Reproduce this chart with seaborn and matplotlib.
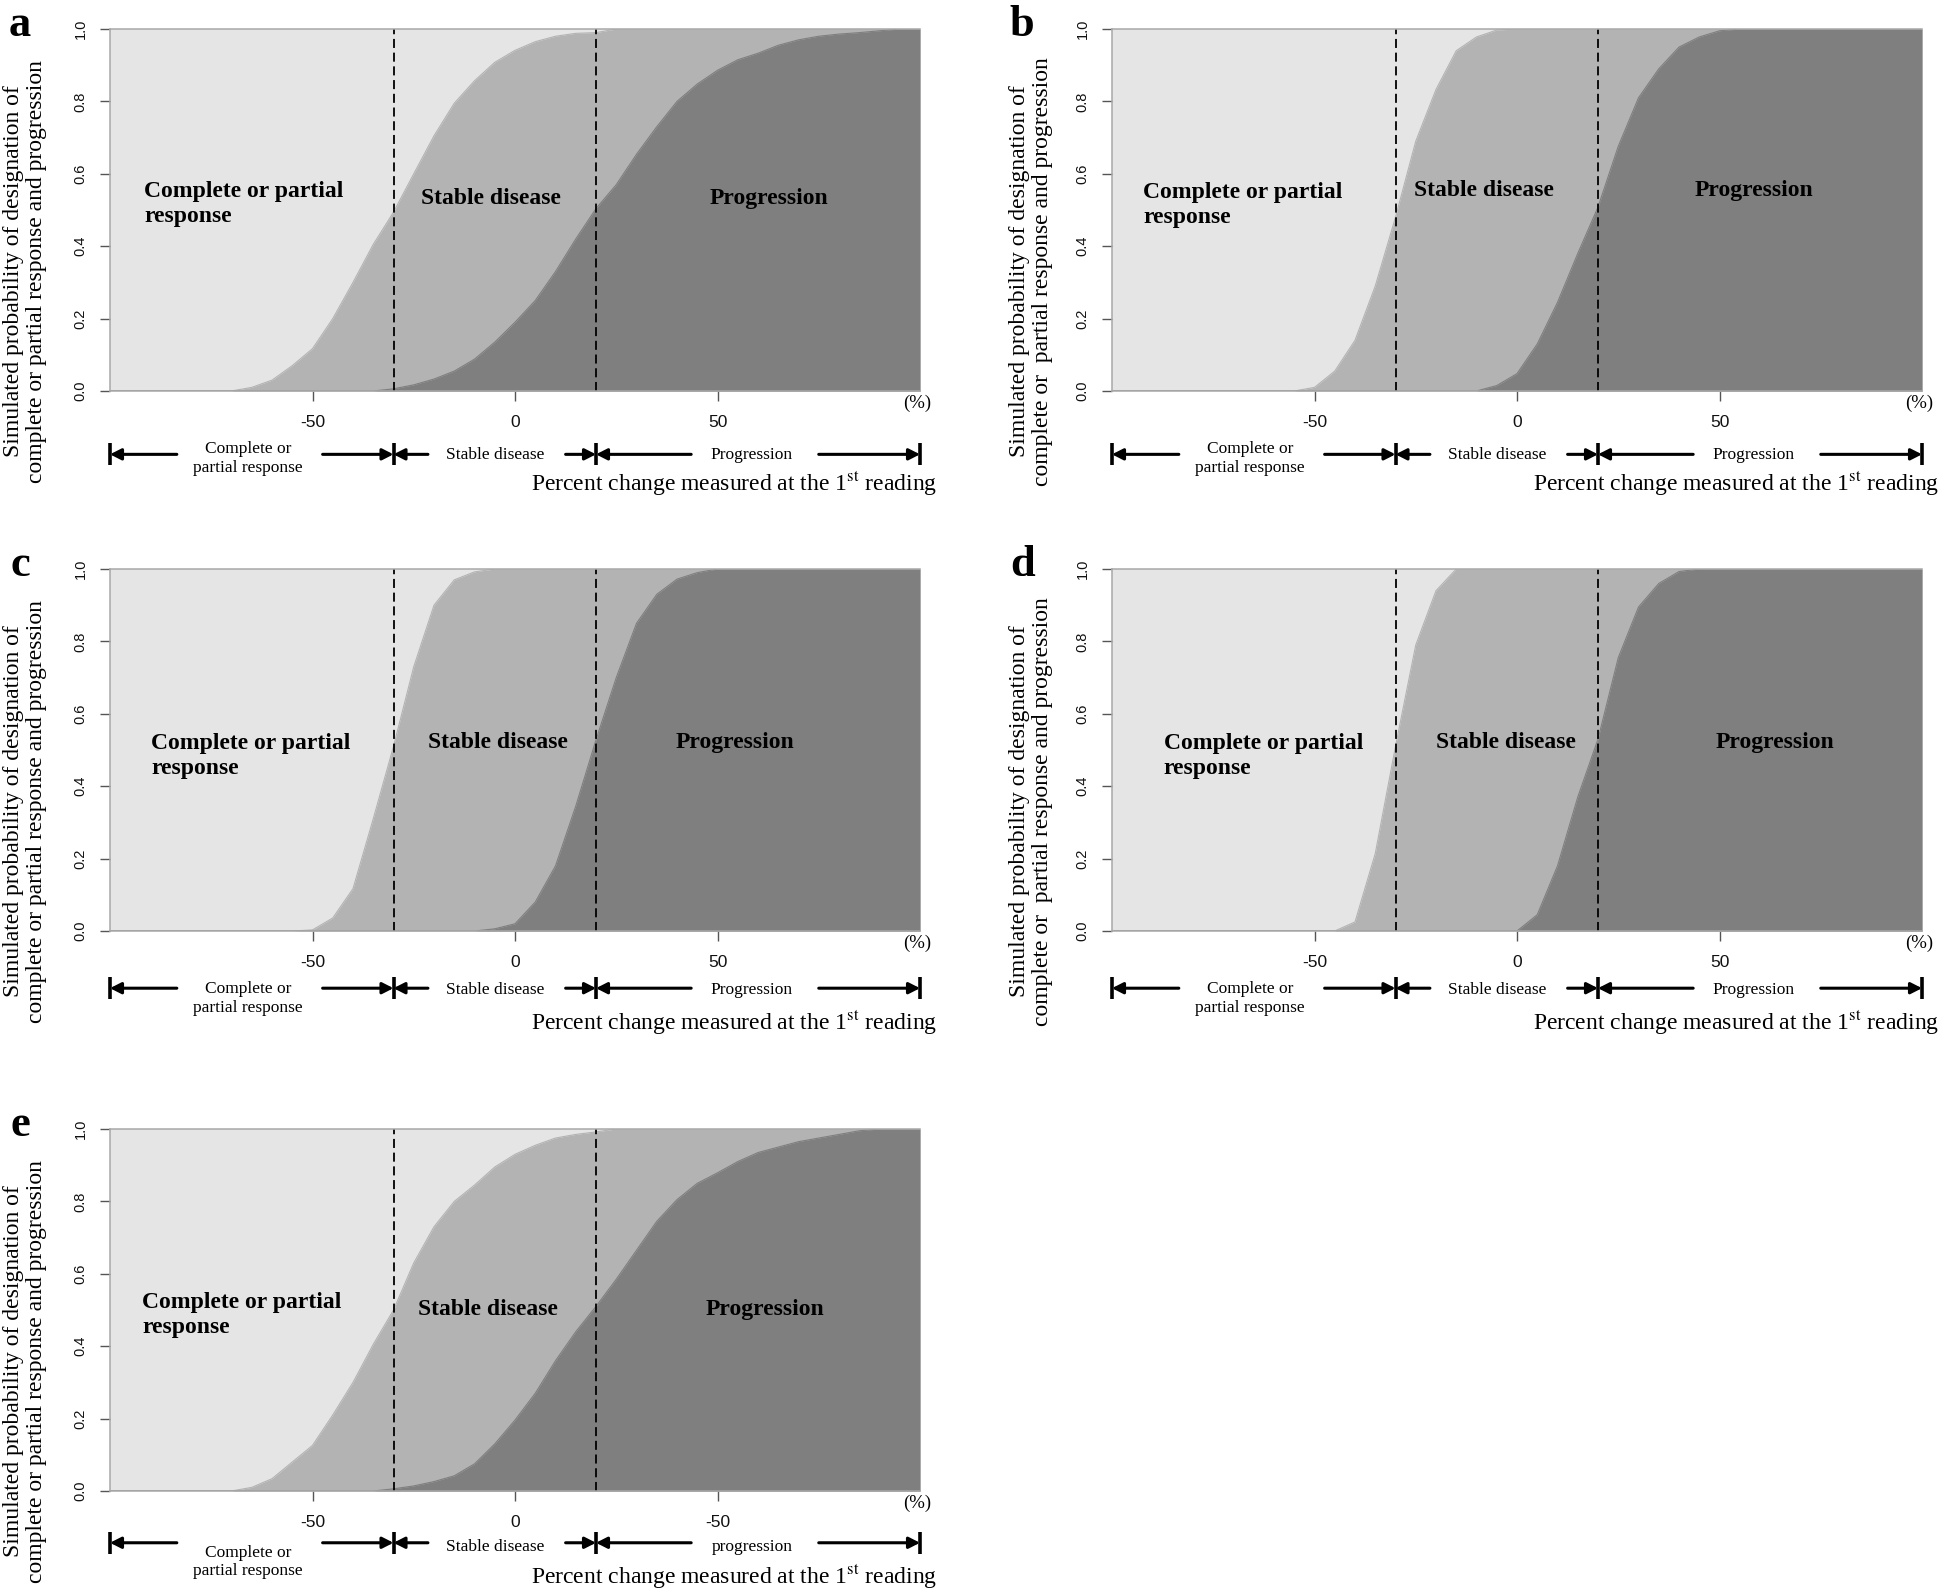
import matplotlib.pyplot as plt
import matplotlib.transforms as mtransforms
import seaborn as sns

sns.set_theme(style="ticks")
plt.rcParams["font.family"] = ["Liberation Serif", "DejaVu Serif"]
plt.rcParams["mathtext.fontset"] = "stix"
plt.rcParams["text.color"] = "black"
plt.rcParams["xtick.labelcolor"] = "#111111"
plt.rcParams["ytick.labelcolor"] = "#111111"

# percent change measured at the 1st reading
pct = [-100, -95, -90, -85, -80, -75, -70, -65, -60, -55, -50, -45, -40, -35,
       -30, -25, -20, -15, -10, -5, 0, 5, 10, 15, 20, 25, 30, 35, 40, 45, 50,
       55, 60, 65, 70, 75, 80, 85, 90, 95, 100]

# top of the mid band = P(stable or progression), top of dark band = P(progression)
a_not_resp = [0.0] * 7 + [0.01, 0.03, 0.07, 0.117, 0.20, 0.30, 0.405, 0.494, 0.60, 0.705,
                          0.795, 0.857, 0.908, 0.941, 0.965, 0.98, 0.988, 0.99, 1.0] + [1.0] * 15
a_prog = [0.0] * 14 + [0.006, 0.017, 0.033, 0.055, 0.088, 0.135, 0.19, 0.25, 0.33, 0.42,
                       0.504, 0.57, 0.654, 0.73, 0.80, 0.848, 0.886, 0.915, 0.933, 0.955,
                       0.97, 0.98, 0.986, 0.99, 0.995, 1.0, 1.0]
b_not_resp = [0.0] * 10 + [0.01, 0.055, 0.14, 0.29, 0.48, 0.69, 0.833, 0.94, 0.978, 0.997] + [1.0] * 21
b_prog = [0.0] * 19 + [0.015, 0.048, 0.13, 0.245, 0.38, 0.508, 0.676, 0.81, 0.89, 0.95,
                       0.978, 0.995] + [1.0] * 10
c_not_resp = [0.0] * 10 + [0.003, 0.036, 0.117, 0.31, 0.51, 0.73, 0.90, 0.97, 0.992, 1.0] + [1.0] * 21
c_prog = [0.0] * 19 + [0.006, 0.02, 0.08, 0.18, 0.345, 0.528, 0.70, 0.85, 0.93, 0.972,
                       0.99, 1.0] + [1.0] * 10
d_not_resp = [0.0] * 12 + [0.025, 0.214, 0.51, 0.79, 0.94, 1.0] + [1.0] * 23
d_prog = [0.0] * 21 + [0.045, 0.18, 0.37, 0.53, 0.755, 0.895, 0.96, 0.993] + [1.0] * 12
e_not_resp = [0.0] * 7 + [0.01, 0.034, 0.08, 0.126, 0.21, 0.30, 0.405, 0.50, 0.63, 0.73,
                          0.80, 0.845, 0.895, 0.93, 0.955, 0.975, 0.985, 0.992, 1.0] + [1.0] * 15
e_prog = [0.0] * 14 + [0.006, 0.014, 0.026, 0.042, 0.075, 0.13, 0.196, 0.27, 0.36, 0.44,
                       0.51, 0.585, 0.665, 0.745, 0.805, 0.85, 0.879, 0.91, 0.935, 0.95,
                       0.965, 0.975, 0.985, 0.995, 1.0, 1.0, 1.0]

cutoffs = [-30, 20]
xticks = [-50, 0, 50]
xticklabels = ["-50", "0", "50"]
xticklabels_e = ["-50", "0", "-50"]  # as printed in the source
yticks = [0.0, 0.2, 0.4, 0.6, 0.8, 1.0]
yticklabels = ["0.0", "0.2", "0.4", "0.6", "0.8", "1.0"]
zone_labels = ["Complete or partial\nresponse", "Stable disease", "Progression"]
row_labels = ["Complete or\npartial response", "Stable disease", "Progression"]
row_labels_e = ["Complete or\npartial response", "Stable disease", "progression"]
ylab_1 = "Simulated probability of designation of\ncomplete or partial response and progression"
ylab_2 = "Simulated probability of designation of\ncomplete or  partial response and progression"

LIGHT, MID, DARK = "#e5e5e5", "#b3b3b3", "#7f7f7f"
W, H = 1946, 1592


def axes_rect(left, top):
    return [left / W, 1 - (top + 362) / H, 810 / W, 362 / H]


def draw_panel(ax, letter, not_resp, prog, ylab, xtl, rows, zones, row_y, row_dy,
               ylab_x, xlab_y):
    ax.set_facecolor(LIGHT)
    ax.fill_between(pct, 0, not_resp, color=MID, lw=0, zorder=1)
    ax.fill_between(pct, 0, prog, color=DARK, lw=0, zorder=2)
    sns.lineplot(x=pct, y=not_resp, ax=ax, color=MID, lw=0.8, zorder=1.5)
    sns.lineplot(x=pct, y=prog, ax=ax, color=DARK, lw=0.8, zorder=2.5)
    for c in cutoffs:
        ax.axvline(c, color="black", lw=1.3, ls=(0, (5, 2.6)), zorder=3)
    ax.set_xlim(-100, 100)
    ax.set_ylim(0, 1)
    ax.set_xlabel("")
    ax.set_ylabel("")

    for side in ["left", "top", "bottom"]:
        ax.spines[side].set_color("#a8a8a8")
        ax.spines[side].set_linewidth(1.1)
        ax.spines[side].set_zorder(4)
    ax.spines["right"].set_visible(False)

    ax.set_xticks(xticks)
    ax.set_xticklabels(xtl, family=["Liberation Sans Narrow", "Liberation Sans"], fontsize=12.5)
    ax.set_yticks(yticks)
    ax.set_yticklabels(yticklabels, rotation=90, va="center",
                       family=["Liberation Sans", "DejaVu Sans"], fontsize=10.5)
    ax.tick_params(axis="both", direction="out", length=7, width=1, color="#555555")
    ax.tick_params(axis="x", pad=10)
    ax.tick_params(axis="y", pad=9)

    # zone names inside the plot
    (x0, y0), (x1, y1), (x2, y2) = zones
    ax.text(x0, y0, zone_labels[0], ha="left", va="center", fontsize=17,
            fontweight="bold", linespacing=1.25, zorder=5)
    ax.text(x1, y1, zone_labels[1], ha="center", va="center", fontsize=17,
            fontweight="bold", zorder=5)
    ax.text(x2, y2, zone_labels[2], ha="center", va="center", fontsize=17,
            fontweight="bold", zorder=5)

    # response category row under the axis
    trans = mtransforms.blended_transform_factory(ax.transData, ax.transAxes)
    segs = [(-83.5, -100), (-47.5, -30), (-21.5, -30), (12.5, 20), (43.5, 20), (75, 100)]
    for tail, head in segs:
        ax.annotate("", xy=(head, row_y), xytext=(tail, row_y), xycoords=trans,
                    textcoords=trans, annotation_clip=False,
                    arrowprops=dict(arrowstyle="-|>,head_length=0.55,head_width=0.28",
                                    color="black", lw=2.2, shrinkA=0, shrinkB=0))
    for b in [-100, -30, 20, 100]:
        ax.plot([b, b], [row_y - 0.03, row_y + 0.03], transform=trans, color="black",
                lw=2.6, clip_on=False, solid_capstyle="butt")
    ax.text(-66, row_y - row_dy, rows[0], transform=trans, ha="center", va="center",
            fontsize=12.5, linespacing=1.2)
    ax.text(-5, row_y - row_dy * 0.2, rows[1], transform=trans, ha="center", va="center",
            fontsize=12.5)
    ax.text(58.5, row_y - row_dy * 0.2, rows[2], transform=trans, ha="center", va="center",
            fontsize=12.5)

    ax.text(1.014, -0.033, "(%)", transform=ax.transAxes, ha="right", va="center", fontsize=13.5)
    ax.text(1.021, xlab_y, r"Percent change measured at the 1$^{\mathrm{st}}$ reading",
            transform=ax.transAxes, ha="right", va="center", fontsize=17)
    ax.text(ylab_x, 0.33, ylab, transform=ax.transAxes, rotation=90, ha="center",
            va="center", fontsize=17, linespacing=1.1)
    ax.text(-0.111, 0.98, letter, transform=ax.transAxes, ha="center", va="baseline",
            fontsize=32, fontweight="bold")


fig = plt.figure(figsize=(19.46, 15.92), dpi=100)

ax_a = fig.add_axes(axes_rect(110, 29))
draw_panel(ax_a, "a", a_not_resp, a_prog, ylab_1, xticklabels, row_labels,
           [(-91.6, 0.517), (-6, 0.531), (62.8, 0.531)], -0.175, 0.012, -0.105, -0.257)

ax_b = fig.add_axes(axes_rect(1112, 29))
draw_panel(ax_b, "b", b_not_resp, b_prog, ylab_2, xticklabels, row_labels,
           [(-92.3, 0.515), (-8.1, 0.554), (58.4, 0.554)], -0.175, 0.012, -0.1, -0.257)

ax_c = fig.add_axes(axes_rect(110, 569))
draw_panel(ax_c, "c", c_not_resp, c_prog, ylab_1, xticklabels, row_labels,
           [(-89.8, 0.483), (-4.3, 0.522), (54.2, 0.522)], -0.158, 0.029, -0.105, -0.254)

ax_d = fig.add_axes(axes_rect(1112, 569))
draw_panel(ax_d, "d", d_not_resp, d_prog, ylab_2, xticklabels, row_labels,
           [(-87.2, 0.483), (-2.7, 0.522), (63.8, 0.522)], -0.158, 0.029, -0.1, -0.254)

ax_e = fig.add_axes(axes_rect(110, 1129))
draw_panel(ax_e, "e", e_not_resp, e_prog, ylab_1, xticklabels_e, row_labels_e,
           [(-92.1, 0.487), (-6.8, 0.502), (61.7, 0.502)], -0.143, 0.053, -0.105, -0.236)

fig.savefig("out.png", dpi=100, facecolor="white")
